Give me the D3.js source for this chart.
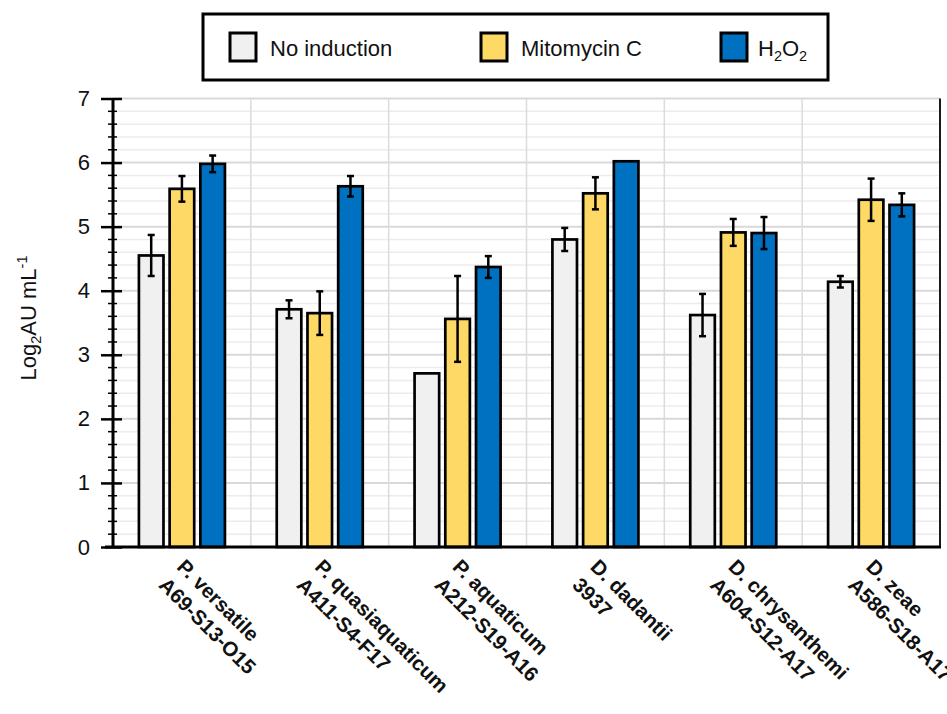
<!DOCTYPE html>
<html>
<head>
<meta charset="utf-8">
<script src="https://cdn.jsdelivr.net/npm/d3@7"></script>
<style>
  html, body { margin: 0; padding: 0; background: #fff; }
  svg { display: block; font-family: "Liberation Sans", Arial, sans-serif; }
</style>
</head>
<body>
<svg id="chart" width="947" height="714"></svg>
<script>
// Strains (two-line axis labels)
const speciesNames = ["P. versatile", "P. quasiaquaticum", "P. aquaticum", "D. dadantii", "D. chrysanthemi", "D. zeae"];
const strainCodes  = ["A69-S13-O15", "A411-S4-F17", "A212-S19-A16", "3937", "A604-S12-A17", "A586-S18-A17"];

// Treatments
const seriesKeys = ["none", "mitomycin", "h2o2"];
const seriesColors = ["#f0f0f0", "#ffd966", "#0070c0"];

// Log2 AU per mL (mean) and error bar half-widths
const noInduction    = [4.55, 3.71, 2.71, 4.80, 3.62, 4.14];
const noInductionErr = [0.32, 0.14, 0.00, 0.18, 0.33, 0.09];
const mitomycinC     = [5.59, 3.65, 3.56, 5.52, 4.91, 5.42];
const mitomycinCErr  = [0.20, 0.34, 0.67, 0.25, 0.21, 0.33];
const hydrogenPerox    = [5.98, 5.63, 4.37, 6.02, 4.90, 5.34];
const hydrogenPeroxErr = [0.13, 0.16, 0.17, 0.00, 0.25, 0.18];

const yTicks = [0, 1, 2, 3, 4, 5, 6, 7];

const seriesValues = [noInduction, mitomycinC, hydrogenPerox];
const seriesErrors = [noInductionErr, mitomycinCErr, hydrogenPeroxErr];

const svg = d3.select("#chart");
const plotLeft = 113, plotRight = 940, plotTop = 98.5, plotBottom = 547;

const x0 = d3.scaleBand()
  .domain(speciesNames)
  .range([plotLeft, plotRight])
  .paddingInner(0.376)
  .paddingOuter(0.188);

const x1 = d3.scaleBand()
  .domain(seriesKeys)
  .range([0, x0.bandwidth()])
  .paddingInner(0.2)
  .paddingOuter(0);

const y = d3.scaleLinear().domain([0, 7]).range([plotBottom, plotTop]);

// Gridlines: minor every 0.2, major at integers
const minorVals = d3.range(1, 35).map(i => i / 5).filter(v => Math.abs(v - Math.round(v)) > 1e-6);
svg.append("g").selectAll("line").data(minorVals).join("line")
  .attr("x1", plotLeft).attr("x2", plotRight)
  .attr("y1", d => y(d)).attr("y2", d => y(d))
  .attr("stroke", "#ececec").attr("stroke-width", 1.5);
svg.append("g").selectAll("line").data(yTicks.slice(1)).join("line")
  .attr("x1", plotLeft).attr("x2", plotRight)
  .attr("y1", d => y(d)).attr("y2", d => y(d))
  .attr("stroke", "#d9d9d9").attr("stroke-width", 2);

// Vertical separators between strain groups
const bounds = speciesNames.slice(1).map(c => x0(c) - x0.step() * x0.paddingInner() / 2);
svg.append("g").selectAll("line").data(bounds).join("line")
  .attr("x1", d => d).attr("x2", d => d)
  .attr("y1", plotTop).attr("y2", plotBottom)
  .attr("stroke", "#dcdcdc").attr("stroke-width", 1.5);

// Right frame line
svg.append("line")
  .attr("x1", plotRight).attr("x2", plotRight).attr("y1", plotTop).attr("y2", plotBottom)
  .attr("stroke", "#1a1a1a").attr("stroke-width", 2);

// Bars
const groups = svg.append("g").selectAll("g").data(speciesNames).join("g")
  .attr("transform", d => `translate(${x0(d)},0)`);

groups.selectAll("rect")
  .data((d, i) => seriesKeys.map((k, s) => ({ key: k, s, v: seriesValues[s][i], e: seriesErrors[s][i] })))
  .join("rect")
  .attr("x", d => x1(d.key))
  .attr("width", x1.bandwidth())
  .attr("y", d => y(d.v))
  .attr("height", d => y(0) - y(d.v))
  .attr("fill", d => seriesColors[d.s])
  .attr("stroke", "#000")
  .attr("stroke-width", 2.7);

// Error bars
const errData = (d, i) => seriesKeys.map((k, s) => ({ key: k, v: seriesValues[s][i], e: seriesErrors[s][i] }))
  .filter(d => d.e > 0);
const eb = groups.selectAll("g.err").data(errData).join("g").attr("class", "err")
  .attr("transform", d => `translate(${x1(d.key) + x1.bandwidth() / 2},0)`);
eb.append("line")
  .attr("y1", d => y(d.v - d.e)).attr("y2", d => y(d.v + d.e))
  .attr("stroke", "#000").attr("stroke-width", 2.5);
eb.append("line")
  .attr("x1", -3.5).attr("x2", 3.5)
  .attr("y1", d => y(d.v + d.e)).attr("y2", d => y(d.v + d.e))
  .attr("stroke", "#000").attr("stroke-width", 2.5);
eb.append("line")
  .attr("x1", -3.5).attr("x2", 3.5)
  .attr("y1", d => y(d.v - d.e)).attr("y2", d => y(d.v - d.e))
  .attr("stroke", "#000").attr("stroke-width", 2.5);

// Y axis with major and minor ticks crossing the spine
const yAxisG = svg.append("g").attr("transform", `translate(${plotLeft},0)`);
yAxisG.append("g").selectAll("line").data(minorVals).join("line")
  .attr("x1", -5).attr("x2", 4)
  .attr("y1", d => y(d)).attr("y2", d => y(d))
  .attr("stroke", "#000").attr("stroke-width", 1.5);
yAxisG.call(d3.axisLeft(y).tickValues(yTicks).tickSize(12).tickPadding(11).tickFormat(d3.format("d")))
  .call(g => g.select(".domain").attr("stroke-width", 3).attr("d", `M0,${y(7)}V${y(0)}`))
  .call(g => g.selectAll(".tick line").attr("x2", -12).attr("stroke-width", 2.5)
    .clone().attr("x2", 9))
  .call(g => g.selectAll(".tick text").attr("font-size", 22).attr("fill", "#111")
    .attr("font-family", "'Liberation Sans', Arial, sans-serif"));

// X axis baseline
svg.append("line")
  .attr("x1", plotLeft - 8).attr("x2", plotRight + 1).attr("y1", plotBottom).attr("y2", plotBottom)
  .attr("stroke", "#000").attr("stroke-width", 3);

// Rotated two-line category labels
const labels = svg.append("g").selectAll("text").data(speciesNames).join("text")
  .attr("transform", d => `translate(${x0(d) + x0.bandwidth() / 2 + 7},${plotBottom + 8}) rotate(45)`)
  .attr("font-size", 20.5)
  .attr("font-weight", "bold")
  .attr("fill", "#111");
labels.append("tspan").attr("x", 0).attr("dy", "0.9em").text(d => d);
labels.append("tspan").attr("x", 0).attr("dy", "1.25em").text((d, i) => strainCodes[i]);

// Y axis title
const yTitle = svg.append("text")
  .attr("transform", `translate(36,318) rotate(-90)`)
  .attr("text-anchor", "middle")
  .attr("font-size", 22)
  .attr("fill", "#111");
yTitle.append("tspan").text("Log");
yTitle.append("tspan").attr("font-size", 14.5).attr("dy", 5).text("2");
yTitle.append("tspan").attr("dy", -5).text("AU mL");
yTitle.append("tspan").attr("font-size", 14.5).attr("dy", -9).text("-1");

// Legend
const legend = svg.append("g");
legend.append("rect")
  .attr("x", 203).attr("y", 14).attr("width", 625).attr("height", 66)
  .attr("fill", "#fff").attr("stroke", "#000").attr("stroke-width", 3);
const legendItems = [
  { sx: 230, tx: 270 },
  { sx: 481, tx: 521 },
  { sx: 721, tx: 758 }
];
legendItems.forEach((p, i) => {
  legend.append("rect")
    .attr("x", p.sx).attr("y", 33).attr("width", 26).attr("height", 28)
    .attr("fill", seriesColors[i]).attr("stroke", "#000").attr("stroke-width", 3);
});
const lt = legend.selectAll("text.lg").data([0, 1, 2]).join("text").attr("class", "lg")
  .attr("x", i => legendItems[i].tx).attr("y", 56)
  .attr("font-size", 22).attr("fill", "#111");
lt.filter(i => i === 0).text("No induction");
lt.filter(i => i === 1).text("Mitomycin C");
const h = lt.filter(i => i === 2);
h.append("tspan").text("H");
h.append("tspan").attr("font-size", 14.5).attr("dy", 5).text("2");
h.append("tspan").attr("dy", -5).text("O");
h.append("tspan").attr("font-size", 14.5).attr("dy", 5).text("2");
</script>
</body>
</html>
